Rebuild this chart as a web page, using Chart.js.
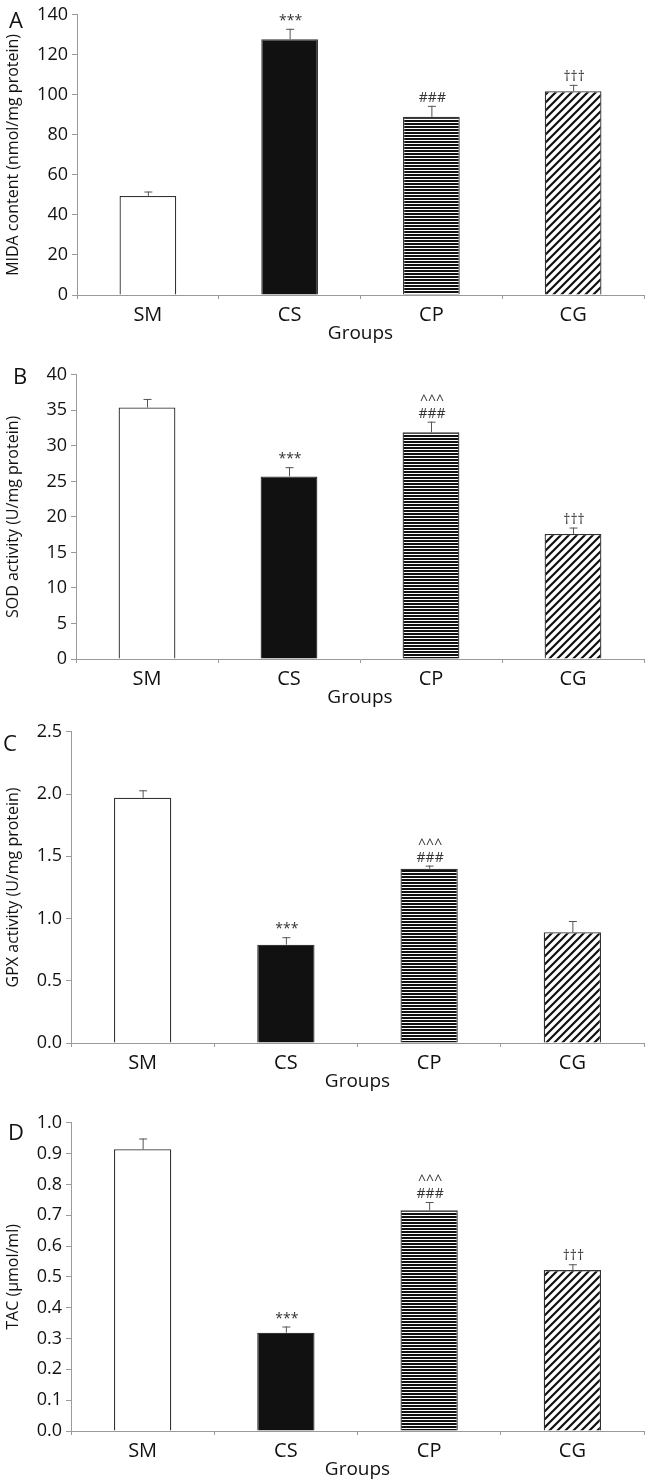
<!DOCTYPE html>
<html>
<head>
<meta charset="utf-8">
<script src="https://cdn.jsdelivr.net/npm/chart.js@4.4.1/dist/chart.umd.min.js"></script>
<style>
body { margin: 0; background: #fff; }
.panel { position: absolute; left: 0; width: 658px; }
</style>
</head>
<body>
<div class="panel" style="top:0px;height:360px"><canvas id="chartA"></canvas></div>
<div class="panel" style="top:360px;height:357px"><canvas id="chartB"></canvas></div>
<div class="panel" style="top:717px;height:391px"><canvas id="chartC"></canvas></div>
<div class="panel" style="top:1108px;height:373px"><canvas id="chartD"></canvas></div>
<script>
const groups = ['SM', 'CS', 'CP', 'CG'];

const mdaValues = [49.5, 127.8, 89, 101.8];
const mdaErrors = [2.2, 5.2, 5.5, 3.2];
const mdaMarks = ['', '***', '###', '†††'];
const mdaTicks = [0, 20, 40, 60, 80, 100, 120, 140];

const sodValues = [35.4, 25.7, 31.9, 17.6];
const sodErrors = [1.2, 1.3, 1.5, 0.9];
const sodMarks = ['', '***', '^^^\n###', '†††'];
const sodTicks = [0, 5, 10, 15, 20, 25, 30, 35, 40];

const gpxValues = [1.97, 0.79, 1.40, 0.89];
const gpxErrors = [0.06, 0.06, 0.025, 0.09];
const gpxMarks = ['', '***', '^^^\n###', ''];
const gpxTicks = [0.0, 0.5, 1.0, 1.5, 2.0, 2.5];

const tacValues = [0.914, 0.319, 0.716, 0.522];
const tacErrors = [0.035, 0.02, 0.027, 0.019];
const tacMarks = ['', '***', '^^^\n###', '†††'];
const tacTicks = [0.0, 0.1, 0.2, 0.3, 0.4, 0.5, 0.6, 0.7, 0.8, 0.9, 1.0];

const FONT = 'Open Sans, Lato, sans-serif';
const AXIS_GREY = '#9a9a9a';

function stripePattern() {
    var c = document.createElement('canvas');
    c.width = 4; c.height = 3;
    var g = c.getContext('2d');
    g.fillStyle = '#fff';
    g.fillRect(0, 0, 4, 3);
    g.fillStyle = '#111';
    g.fillRect(0, 0, 4, 2);
    return g.createPattern(c, 'repeat');
}

function hatchPattern() {
    var c = document.createElement('canvas');
    c.width = 8; c.height = 8;
    var g = c.getContext('2d');
    g.fillStyle = '#fff';
    g.fillRect(0, 0, 8, 8);
    g.strokeStyle = '#111';
    g.lineWidth = 2.2;
    g.beginPath();
    g.moveTo(-2, 10); g.lineTo(10, -2);
    g.moveTo(-2, 2); g.lineTo(2, -2);
    g.moveTo(6, 10); g.lineTo(10, 6);
    g.stroke();
    return g.createPattern(c, 'repeat');
}

// error bars (upper only), significance marks and the panel letter
const errorPlugin = {
    id: 'errorBars',
    afterDatasetsDraw(chart, args, opts) {
        const ctx = chart.ctx;
        const y = chart.scales.y;
        const meta = chart.getDatasetMeta(0);
        const vals = chart.data.datasets[0].data;
        ctx.save();
        meta.data.forEach(function (bar, i) {
            var top = y.getPixelForValue(vals[i] + opts.errors[i]);
            var base = y.getPixelForValue(vals[i]);
            ctx.strokeStyle = '#555';
            ctx.lineWidth = 1;
            ctx.beginPath();
            ctx.moveTo(bar.x + 0.5, base);
            ctx.lineTo(bar.x + 0.5, top);
            ctx.moveTo(bar.x - 3.5, top + 0.5);
            ctx.lineTo(bar.x + 4.5, top + 0.5);
            ctx.stroke();
            if (opts.marks[i]) {
                var lines = opts.marks[i].split('\n').reverse();
                ctx.fillStyle = '#333';
                ctx.font = '14px ' + FONT;
                ctx.textAlign = 'center';
                ctx.textBaseline = 'bottom';
                lines.forEach(function (t, k) {
                    ctx.fillText(t, bar.x + 1, top - 1 - k * 13);
                });
            }
        });
        ctx.fillStyle = '#111';
        ctx.font = '22px ' + FONT;
        ctx.textAlign = 'center';
        ctx.textBaseline = 'middle';
        ctx.fillText(opts.letter, opts.letterX, opts.letterY);
        ctx.restore();
    }
};

function makeChart(id, p) {
    const ctx = document.getElementById(id).getContext('2d');
    return new Chart(ctx, {
        type: 'bar',
        data: {
            labels: groups,
            datasets: [{
                data: p.values,
                backgroundColor: ['#fff', '#111', stripePattern(), hatchPattern()],
                borderColor: '#333',
                borderWidth: 1.3,
                barPercentage: 0.4,
                categoryPercentage: 1
            }]
        },
        options: {
            responsive: true,
            maintainAspectRatio: false,
            animation: false,
            layout: { padding: { top: p.padTop, right: 14, bottom: p.padBottom, left: 0 } },
            plugins: {
                legend: { display: false },
                tooltip: { enabled: false },
                errorBars: { errors: p.errors, marks: p.marks, letter: p.letter, letterX: p.letterX, letterY: p.letterY }
            },
            scales: {
                x: {
                    grid: { display: true, drawOnChartArea: false, offset: true, tickLength: 4, color: AXIS_GREY },
                    border: { color: AXIS_GREY },
                    ticks: { color: '#111', padding: 4, font: { family: FONT, size: 20 } },
                    title: { display: true, text: 'Groups', color: '#111', padding: 0, font: { family: FONT, size: 19 } },
                    afterFit(scale) { scale.height = 50; }
                },
                y: {
                    min: p.ticks[0],
                    max: p.ticks[p.ticks.length - 1],
                    afterBuildTicks(scale) { scale.ticks = p.ticks.map(function (v) { return { value: v }; }); },
                    grid: { display: true, drawOnChartArea: false, tickLength: 5, color: AXIS_GREY },
                    border: { color: AXIS_GREY },
                    ticks: {
                        color: '#111', padding: 4, font: { family: FONT, size: 18 },
                        callback: function (v) { return v.toFixed(p.decimals); }
                    },
                    title: { display: true, text: p.title, color: '#111', padding: { top: 4, bottom: 0 }, font: { family: FONT, size: 16 } },
                    afterFit(scale) { scale.width = p.axisLeft; }
                }
            }
        },
        plugins: [errorPlugin]
    });
}

makeChart('chartA', {
    values: mdaValues, errors: mdaErrors, marks: mdaMarks, ticks: mdaTicks, decimals: 0,
    title: 'MIDA content (nmol/mg protein)', letter: 'A', letterX: 16, letterY: 22,
    axisLeft: 77, padTop: 12, padBottom: 15
});
makeChart('chartB', {
    values: sodValues, errors: sodErrors, marks: sodMarks, ticks: sodTicks, decimals: 0,
    title: 'SOD activity (U/mg protein)', letter: 'B', letterX: 20, letterY: 18,
    axisLeft: 76, padTop: 11, padBottom: 8
});
makeChart('chartC', {
    values: gpxValues, errors: gpxErrors, marks: gpxMarks, ticks: gpxTicks, decimals: 1,
    title: 'GPX activity (U/mg protein)', letter: 'C', letterX: 10, letterY: 28,
    axisLeft: 71, padTop: 10, padBottom: 15
});
makeChart('chartD', {
    values: tacValues, errors: tacErrors, marks: tacMarks, ticks: tacTicks, decimals: 1,
    title: 'TAC (µmol/ml)', letter: 'D', letterX: 16, letterY: 26,
    axisLeft: 71, padTop: 11, padBottom: 0
});
</script>
</body>
</html>
